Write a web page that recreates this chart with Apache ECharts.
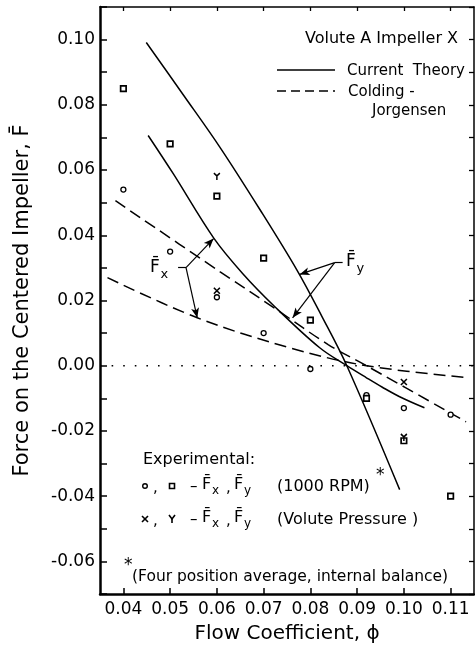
<!DOCTYPE html>
<html><head><meta charset="utf-8">
<script src="https://cdn.jsdelivr.net/npm/echarts@6/dist/echarts.min.js"></script>
<style>html,body{margin:0;padding:0;background:#fff}#c{width:475px;height:651px}</style>
</head><body><div id="c"></div>
<script>
// ---- data ----
const xTickValues = [0.04, 0.05, 0.06, 0.07, 0.08, 0.09, 0.10, 0.11];
const fxExp1000 = [[0.04,0.054],[0.05,0.035],[0.06,0.021],[0.07,0.010],[0.08,-0.001],[0.092,-0.009],[0.10,-0.013],[0.11,-0.015]];
const fyExp1000 = [[0.04,0.085],[0.05,0.068],[0.06,0.052],[0.07,0.033],[0.08,0.014],[0.092,-0.010],[0.10,-0.023],[0.11,-0.040]];
const fxVolute = [[0.06,0.023],[0.10,-0.005]];
const fyVolute = [[0.06,0.058],[0.10,-0.022]];
const fyTheory = [[0.0449,0.0991],[0.0528,0.0831],[0.0607,0.0669],[0.0692,0.0479],[0.0771,0.0294],[0.0824,0.0153],[0.0878,0.0],[0.0991,-0.038]];
const fxTheory = [[0.0453,0.0706],[0.0507,0.0588],[0.0593,0.0392],[0.0655,0.0283],[0.0724,0.0181],[0.082,0.0055],[0.0878,0.0],[0.092,-0.0037],[0.0954,-0.0066],[0.0991,-0.0095],[0.1044,-0.0129]];
const fyColding = [[0.0383,0.0506],[0.0607,0.0288],[0.0728,0.0172],[0.0838,0.0065],[0.092,0.0],[0.1133,-0.0172]];
const fxColding = [[0.0366,0.027],[0.0558,0.0147],[0.0756,0.0055],[0.092,0.0],[0.114,-0.0037]];
const zeroLine = [[0.035,0],[0.115,0]];
// annotation arrows: [from, to, arrowhead?]
const annotArrows = [
  [[0.0517,0.0301],[0.0534,0.0301],false],
  [[0.0534,0.0301],[0.0593,0.0390],true],
  [[0.0534,0.0301],[0.0558,0.0147],true],
  [[0.0869,0.0316],[0.0852,0.0316],false],
  [[0.0852,0.0316],[0.0777,0.0280],true],
  [[0.0852,0.0316],[0.0762,0.0147],true]
];

const FONT = "'DejaVu Sans', sans-serif";
const chart = echarts.init(document.getElementById('c'), null, {renderer:'canvas'});

function txt(x, y, s, size, align, extra) {
  return Object.assign({type:'text', x:x, y:y, silent:true, style:{text:s, font: size+'px '+FONT, fill:'#000',
    textAlign: align||'left', align: align||'left', textVerticalAlign:'middle', verticalAlign:'middle'}}, extra||{});
}
function fbar(x, y, sub, size) {
  return [txt(x, y, 'F\u0304', size), txt(x + size*0.62, y + size*0.38, sub, Math.round(size*0.78))];
}
function gline(x1,y1,x2,y2,dash){
  return {type:'line', silent:true, shape:{x1,y1,x2,y2}, style:{stroke:'#000', lineWidth:1.5, lineDash: dash||null}};
}

const graphic = [
  txt(458, 39, 'Volute A Impeller X', 16, 'right'),
  gline(277, 70, 335, 70),
  txt(347, 71, 'Current  Theory', 15),
  gline(277, 91, 335, 91, [9,5]),
  txt(348, 92, 'Colding -', 15),
  txt(372, 111, 'Jorgensen', 15),
  ...fbar(150, 268, 'x', 17),
  ...fbar(346, 262, 'y', 17),
  txt(143, 460, 'Experimental:', 16),
  {type:'circle', silent:true, shape:{cx:145, cy:486, r:2.3}, style:{fill:'#fff', stroke:'#000', lineWidth:1.4}},
  txt(153, 488, ',', 15),
  {type:'rect', silent:true, shape:{x:169.5, y:483.5, width:5, height:5}, style:{fill:'#fff', stroke:'#000', lineWidth:1.6}},
  txt(190, 487, '\u2013', 15),
  ...fbar(202, 485, 'x', 16),
  txt(226, 488, ',', 15),
  ...fbar(234, 485, 'y', 16),
  txt(277, 487, '(1000 RPM)', 16),
  txt(376, 476, '*', 17),
  {type:'polyline', silent:true, shape:{points:[[142,516],[148,522]]}, style:{stroke:'#000', lineWidth:1.6}},
  {type:'polyline', silent:true, shape:{points:[[148,516],[142,522]]}, style:{stroke:'#000', lineWidth:1.6}},
  txt(153, 521, ',', 15),
  {type:'polyline', silent:true, shape:{points:[[169,515],[172,519],[175,515]]}, style:{stroke:'#000', lineWidth:1.6, fill:null}},
  {type:'polyline', silent:true, shape:{points:[[172,519],[172,523]]}, style:{stroke:'#000', lineWidth:1.6}},
  txt(190, 520, '\u2013', 15),
  ...fbar(202, 518, 'x', 16),
  txt(226, 521, ',', 15),
  ...fbar(234, 518, 'y', 16),
  txt(277, 520, '(Volute Pressure )', 16),
  txt(124, 566, '*', 17),
  txt(132, 577, '(Four position average, internal balance)', 15.5)
];

const markLineData = annotArrows.map(a => [
  {coord:a[0], symbol:'none'},
  {coord:a[1], symbol: a[2] ? 'arrow' : 'none', symbolSize:[6,10]}
]);

function lineSeries(name, data, dashed) {
  return {name, type:'line', data, showSymbol:false, symbol:'none', smooth:0.35,
    lineStyle:{color:'#000', width:1.5, type: dashed ? [12,6] : 'solid'}, silent:true, z:3};
}
function scatter(name, data, symbol, size, bw) {
  return {name, type:'scatter', data, symbol, symbolSize:size,
    itemStyle:{color:'#fff', borderColor:'#000', borderWidth:bw, opacity:1}, z:5, silent:true};
}

const option = {
  animation:false,
  backgroundColor:'#fff',
  textStyle:{fontFamily:FONT, color:'#000'},
  grid:{left:100, top:7, right:1, bottom:57, containLabel:false},
  xAxis:[{
    type:'value', position:'bottom', min:0.035, max:0.115, interval:0.005,
    axisLine:{show:true, onZero:false, lineStyle:{color:'#000', width:2.5}},
    axisTick:{show:true, inside:true, length:6, customValues:xTickValues, lineStyle:{color:'#000', width:1.5}},
    axisLabel:{customValues:xTickValues, formatter:v=>v.toFixed(2), fontSize:17, color:'#000', margin:7, fontFamily:FONT},
    splitLine:{show:false},
    name:'Flow Coefficient, \u03D5', nameLocation:'middle', nameGap:30,
    nameTextStyle:{fontSize:20, color:'#000', fontFamily:FONT}
  },{
    type:'value', position:'top', min:0.035, max:0.115, interval:0.005,
    axisLine:{show:true, onZero:false, lineStyle:{color:'#000', width:1.5}},
    axisTick:{show:true, inside:true, length:4, customValues:xTickValues, lineStyle:{color:'#000', width:1.3}},
    axisLabel:{show:false}, splitLine:{show:false}
  }],
  yAxis:[{
    type:'value', position:'left', min:-0.07, max:0.11, interval:0.01,
    axisLine:{show:true, onZero:false, lineStyle:{color:'#000', width:2.5}},
    axisTick:{show:true, inside:true, length:7, lineStyle:{color:'#000', width:1.5}},
    axisLabel:{formatter:v=>{const k=Math.round(v*100); return (k%2===0)?(k/100).toFixed(2):'';}, fontSize:17, color:'#000', margin:5, fontFamily:FONT},
    splitLine:{show:false},
    name:'Force on the Centered Impeller, F\u0304', nameLocation:'middle', nameGap:67, nameRotate:90,
    nameTextStyle:{fontSize:21, color:'#000', fontFamily:FONT}
  },{
    type:'value', position:'right', min:-0.07, max:0.11, interval:0.01,
    axisLine:{show:true, onZero:false, lineStyle:{color:'#000', width:1.5}},
    axisTick:{show:true, inside:true, length:5, lineStyle:{color:'#000', width:1.3}},
    axisLabel:{show:false}, splitLine:{show:false}
  }],
  series:[
    {name:'zero', type:'line', data:zeroLine, showSymbol:false, symbol:'none', silent:true,
     lineStyle:{color:'#000', width:1.6, type:[1.6,10]}, z:2,
     markLine:{silent:true, animation:false, label:{show:false}, symbol:['none','none'],
       lineStyle:{color:'#000', width:1.2, type:'solid'}, data:markLineData}},
    lineSeries('Fy current theory', fyTheory, false),
    lineSeries('Fx current theory', fxTheory, false),
    lineSeries('Fy Colding-Jorgensen', fyColding, true),
    lineSeries('Fx Colding-Jorgensen', fxColding, true),
    scatter('Fx 1000 RPM', fxExp1000, 'circle', 5, 1.3),
    scatter('Fy 1000 RPM', fyExp1000, 'rect', 5.5, 1.7),
    scatter('Fx volute', fxVolute, 'path://M0,0L10,10M10,0L0,10', 6, 1.6),
    scatter('Fy volute', fyVolute, 'path://M0,0L5,5L10,0M5,5L5,12', [6,7], 1.6)
  ],
  graphic: graphic
};
chart.setOption(option);
</script></body></html>
